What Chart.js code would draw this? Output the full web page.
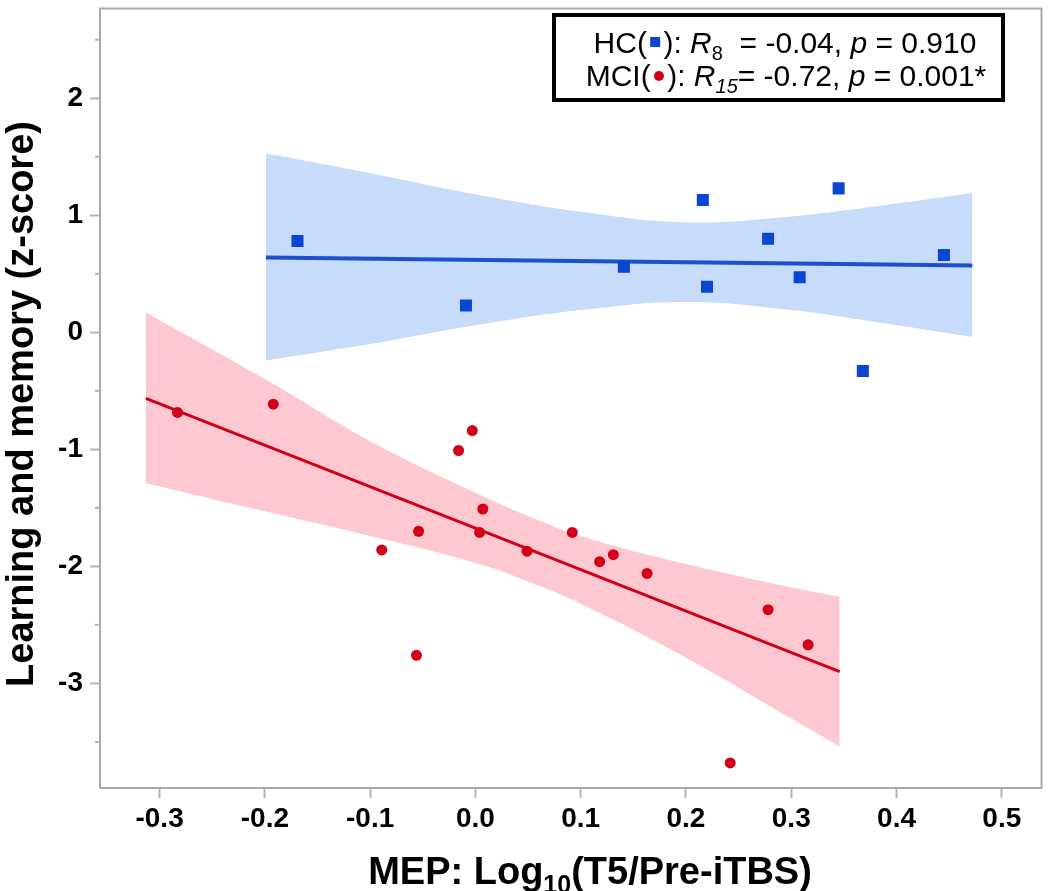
<!DOCTYPE html>
<html>
<head>
<meta charset="utf-8">
<script src="https://cdn.jsdelivr.net/npm/chart.js@4.4.1/dist/chart.umd.min.js"></script>
<style>
    html, body { margin: 0; padding: 0; background: #fff; }
    #wrap { width: 1050px; height: 891px; }
</style>
</head>
<body>
<div id="wrap"><canvas id="mepChart" width="1050" height="891"></canvas></div>
<script>
// ===== DATA =====
// HC group (blue squares)
const hcX = [-0.169, -0.009, 0.141, 0.216, 0.220, 0.278, 0.308, 0.345, 0.368, 0.445];
const hcY = [0.78, 0.23, 0.56, 1.13, 0.39, 0.80, 0.47, 1.23, -0.33, 0.66];
// MCI group (red dots)
const mciX = [-0.283, -0.192, -0.003, -0.016, 0.007, -0.054, 0.004, -0.089, 0.049, 0.092,
              -0.056, 0.118, 0.131, 0.163, 0.278, 0.316, 0.242];
const mciY = [-0.685, -0.614, -0.84, -1.01, -1.51, -1.70, -1.71, -1.86, -1.87, -1.71,
              -2.76, -1.96, -1.90, -2.06, -2.37, -2.67, -3.68];

// fitted lines (end points)
const hcFitX = [-0.199, 0.472];
const hcFitY = [0.64, 0.57];
const mciFitX = [-0.313, 0.346];
const mciFitY = [-0.564, -2.90];

// confidence bands (edges)
const hcBandX = [-0.199, -0.1, 0.0, 0.1, 0.2, 0.3, 0.4, 0.472];
const hcBandUpper = [1.53, 1.36, 1.18, 1.03, 0.94, 0.99, 1.10, 1.19];
const hcBandLower = [-0.24, -0.10, 0.06, 0.19, 0.26, 0.19, 0.06, -0.04];
const mciBandX = [-0.313, -0.2, -0.1, 0.0, 0.05, 0.1, 0.2, 0.3, 0.346];
const mciBandUpper = [0.17, -0.40, -0.93, -1.37, -1.57, -1.74, -1.98, -2.18, -2.26];
const mciBandLower = [-1.29, -1.53, -1.74, -1.97, -2.13, -2.32, -2.78, -3.30, -3.54];

// axes
const xTicks = [-0.3, -0.2, -0.1, 0.0, 0.1, 0.2, 0.3, 0.4, 0.5];
const yTicks = [-3, -2, -1, 0, 1, 2];
const yMinorTicks = [-3.5, -2.5, -1.5, -0.5, 0.5, 1.5, 2.5];
const xMin = -0.3566, xMax = 0.5377;
const yMin = -3.894, yMax = 2.767;

const FONT = "'Liberation Sans', Arial, Helvetica, sans-serif";
const BLUE = '#0a46d2';
const RED = '#d40018';

const toPts = (xs, ys) => xs.map((x, i) => ({ x: x, y: ys[i] }));

// ===== TEXT WITH ITALIC / SUBSCRIPT PARTS =====
function drawRich(ctx, parts, x, baseline, size, weight) {
    const subSize = Math.round(size * 0.66);
    const fontOf = p => `${p.italic ? 'italic ' : ''}${weight || ''} ${p.sub ? subSize : size}px ${FONT}`;
    parts.forEach(p => {
        if (p.marker) { p.w = size * 0.55; return; }
        ctx.font = fontOf(p);
        p.w = ctx.measureText(p.text).width;
    });
    const total = parts.reduce((s, p) => s + p.w, 0);
    let cx = x - total / 2;
    ctx.textBaseline = 'alphabetic';
    ctx.textAlign = 'left';
    parts.forEach(p => {
        if (p.marker === 'square') {
            ctx.fillStyle = BLUE;
            ctx.fillRect(cx + p.w / 2 - 5, baseline - 16, 10, 10);
        } else if (p.marker === 'circle') {
            ctx.fillStyle = RED;
            ctx.beginPath();
            ctx.arc(cx + p.w / 2, baseline - 10, 5, 0, Math.PI * 2);
            ctx.fill();
        } else {
            ctx.font = fontOf(p);
            ctx.fillStyle = '#000';
            ctx.fillText(p.text, cx, baseline + (p.sub ? Math.round(size * 0.24) : 0));
        }
        cx += p.w;
    });
}

const decorPlugin = {
    id: 'decor',
    afterDraw(chart) {
        const { ctx, chartArea: a, scales } = chart;
        ctx.save();

        // frame
        ctx.strokeStyle = '#a9a9a9';
        ctx.lineWidth = 2;
        ctx.strokeRect(a.left, a.top, a.right - a.left, a.bottom - a.top);

        // minor ticks on y
        ctx.strokeStyle = '#b4b4b4';
        yMinorTicks.forEach(v => {
            const py = scales.y.getPixelForValue(v);
            ctx.beginPath();
            ctx.moveTo(a.left - 5, py);
            ctx.lineTo(a.left, py);
            ctx.stroke();
        });

        // x title (with subscript)
        drawRich(ctx, [
            { text: 'MEP: Log' }, { text: '10', sub: true }, { text: '(T5/Pre-iTBS)' }
        ], 590, 884, 38, 'bold');

        // y title
        ctx.save();
        ctx.translate(33, 404);
        ctx.rotate(-Math.PI / 2);
        ctx.textAlign = 'center';
        ctx.textBaseline = 'alphabetic';
        ctx.fillStyle = '#000';
        ctx.font = `bold 38px ${FONT}`;
        ctx.fillText('Learning and memory (z-score)', 0, 0);
        ctx.restore();

        // stats box
        ctx.fillStyle = '#fff';
        ctx.fillRect(554, 15, 449, 85);
        ctx.strokeStyle = '#000';
        ctx.lineWidth = 4;
        ctx.strokeRect(554, 15, 449, 85);

        drawRich(ctx, [
            { text: 'HC(' }, { marker: 'square' }, { text: '): ' },
            { text: 'R', italic: true }, { text: '8', sub: true },
            { text: '  = -0.04, ' }, { text: 'p', italic: true }, { text: ' = 0.910' }
        ], 785, 53, 30);
        drawRich(ctx, [
            { text: 'MCI(' }, { marker: 'circle' }, { text: '): ' },
            { text: 'R', italic: true }, { text: '15', sub: true, italic: true },
            { text: '= -0.72, ' }, { text: 'p', italic: true }, { text: ' = 0.001*' }
        ], 786, 86, 30);

        ctx.restore();
    }
};

// ===== CHART =====
const ctx = document.getElementById('mepChart').getContext('2d');
new Chart(ctx, {
    type: 'line',
    data: {
        datasets: [
            {
                label: 'HC band upper',
                data: toPts(hcBandX, hcBandUpper),
                borderWidth: 0, pointRadius: 0, tension: 0.4,
                backgroundColor: '#c6dcfa', fill: '+1', order: 3
            },
            {
                label: 'HC band lower',
                data: toPts(hcBandX, hcBandLower),
                borderWidth: 0, pointRadius: 0, tension: 0.4, fill: false, order: 3
            },
            {
                label: 'MCI band upper',
                data: toPts(mciBandX, mciBandUpper),
                borderWidth: 0, pointRadius: 0, tension: 0.4,
                backgroundColor: '#fdc8cf', fill: '+1', order: 3
            },
            {
                label: 'MCI band lower',
                data: toPts(mciBandX, mciBandLower),
                borderWidth: 0, pointRadius: 0, tension: 0.4, fill: false, order: 3
            },
            {
                label: 'HC fit',
                data: toPts(hcFitX, hcFitY),
                borderColor: '#1d4fcf', borderWidth: 4, pointRadius: 0, fill: false, order: 2
            },
            {
                label: 'MCI fit',
                data: toPts(mciFitX, mciFitY),
                borderColor: '#d0001b', borderWidth: 3, pointRadius: 0, fill: false, order: 2
            },
            {
                label: 'HC',
                data: toPts(hcX, hcY),
                showLine: false, pointStyle: 'rect', pointRadius: 8.5,
                pointBackgroundColor: BLUE, pointBorderWidth: 0, order: 1
            },
            {
                label: 'MCI',
                data: toPts(mciX, mciY),
                showLine: false, pointStyle: 'circle', pointRadius: 5.5,
                pointBackgroundColor: RED, pointBorderWidth: 0, order: 1
            }
        ]
    },
    options: {
        responsive: false,
        animation: false,
        events: [],
        layout: { padding: { top: 2, right: 2, left: 0, bottom: 0 } },
        plugins: {
            legend: { display: false },
            tooltip: { enabled: false }
        },
        scales: {
            x: {
                type: 'linear',
                min: xMin, max: xMax,
                border: { display: false },
                grid: { drawOnChartArea: false, tickLength: 10, tickColor: '#b4b4b4', tickWidth: 2 },
                ticks: {
                    color: '#000',
                    font: { family: FONT, size: 28, weight: 'bold' },
                    padding: 4,
                    maxRotation: 0,
                    autoSkip: false,
                    includeBounds: false,
                    callback: v => v.toFixed(1)
                },
                afterBuildTicks: s => { s.ticks = xTicks.map(v => ({ value: v })); },
                afterFit: s => { s.height = 103; s.paddingLeft = 0; s.paddingRight = 0; }
            },
            y: {
                type: 'linear',
                min: yMin, max: yMax,
                border: { display: false },
                grid: { drawOnChartArea: false, tickLength: 10, tickColor: '#b4b4b4', tickWidth: 2 },
                ticks: {
                    color: '#000',
                    font: { family: FONT, size: 28, weight: 'bold' },
                    padding: 7,
                    autoSkip: false,
                    includeBounds: false,
                    callback: v => String(v)
                },
                afterBuildTicks: s => { s.ticks = yTicks.map(v => ({ value: v })); },
                afterFit: s => { s.width = 100; s.paddingTop = 0; s.paddingBottom = 0; }
            }
        }
    },
    plugins: [decorPlugin]
});
</script>
</body>
</html>
